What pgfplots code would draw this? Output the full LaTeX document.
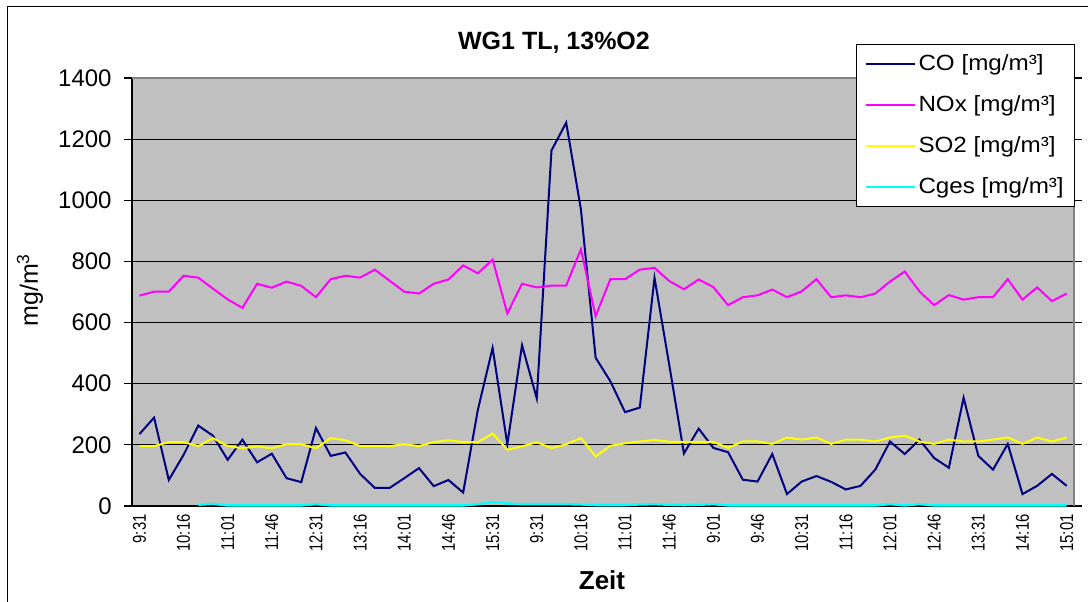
\documentclass[border=0pt]{standalone}
\usepackage{fontspec}
\setmainfont{Liberation Sans}
\newfontfamily\xtf{Liberation Sans}[FakeStretch=0.8]
\newfontfamily\lgf{Liberation Sans}[FakeStretch=1.1]
\usepackage{pgfplots}
\usepackage{pgfplotstable}
\pgfplotsset{compat=1.18}
\definecolor{silverbg}{RGB}{192,192,192}
\definecolor{conavy}{RGB}{0,0,128}
\definecolor{noxmag}{RGB}{255,0,255}
\definecolor{so2yel}{RGB}{255,255,0}
\definecolor{cgcyan}{RGB}{0,255,255}
\definecolor{bordergray}{RGB}{128,128,128}

\pgfplotstableread{
i co nox so2
0 235 688 196
1 289 701 196
2 85 701 209
3 167 753 209
4 263 747 196
5 230 711 222
6 151 676 196
7 217 648 189
8 143 727 195
9 171 714 189
10 91 734 202
11 78 720 202
12 255 683 189
13 164 742 222
14 175 753 215
15 105 747 196
16 59 773 196
17 59 737 196
18 91 701 202
19 124 695 196
20 65 727 209
21 85 741 215
22 44 787 209
23 315 761 209
24 517 806 237
25 202 630 184
26 526 727 195
27 352 715 209
28 1163 721 189
29 1254 721 202
30 970 840 222
31 485 621 162
32 408 742 197
33 307 742 205
34 322 773 211
35 746 779 216
36 462 736 210
37 172 709 210
38 253 741 210
39 190 716 210
40 176 657 190
41 86 683 211
42 80 689 211
43 170 708 203
44 39 683 224
45 80 702 217
46 98 742 224
47 79 683 203
48 54 689 217
49 66 683 217
50 119 695 211
51 211 734 224
52 170 767 230
53 217 702 211
54 157 657 203
55 125 690 217
56 354 675 211
57 164 683 211
58 119 683 217
59 203 742 224
60 39 675 203
61 66 715 224
62 105 670 211
63 66 695 224
}\datatab

\pgfplotstableread{
i cg
4 4
5 7
6 2
7 2
8 2
9 2
10 2
11 2
12 6
13 2
14 2
15 2
16 2
17 2
18 2
19 2
20 2
21 2
22 2
23 6
24 13
25 8
26 6
27 6
28 6
29 6
30 5
31 3
32 3
33 3
34 5
35 6
36 4
37 3
38 4
39 6
40 2
41 2
42 2
43 2
44 2
45 2
46 2
47 2
48 2
49 2
50 2
51 6
52 2
53 6
54 2
55 2
56 2
57 2
58 2
59 2
60 2
61 2
62 2
63 2
}\cgtab

\begin{document}
\begin{tikzpicture}
\path[use as bounding box] (0,0) rectangle (544pt,300.5pt);
\draw[black, line width=0.5pt] (3.5pt,-2pt) -- (3.5pt,297pt) -- (546pt,297pt);
\begin{axis}[
  at={(66pt,47.5pt)}, anchor=south west,
  scale only axis, width=471pt, height=214pt,
  xmin=-0.5, xmax=63.5, ymin=0, ymax=1400,
  clip=false,
  axis on top=false,
  axis line style={draw=none},
  axis background/.style={fill=silverbg, draw=black, line width=0.8pt},
  ytick={0,200,...,1400},
  /pgf/number format/assume math mode=true,
  /pgf/number format/1000 sep={},
  extra y ticks={200,400,...,1200},
  extra y tick style={ymajorgrids=true, yticklabels={}, major tick length=0pt},
  grid style={black, line width=0.5pt},
  tick align=outside,
  major tick length=4pt,
  ytick style={black, line width=0.6pt},
  xtick style={draw=none},
  xtick={0,3,...,63},
  xticklabels={9:31,10:16,11:01,11:46,12:31,13:16,14:01,14:46,15:31,9:31,10:16,11:01,11:46,9:01,9:46,10:31,11:16,12:01,12:46,13:31,14:16,15:01},
  xticklabel style={rotate=90, anchor=east, inner sep=0pt, font=\xtf\fontsize{9.3}{9.3}\selectfont},
  yticklabel style={inner sep=0pt, xshift=-6pt, font=\fontsize{12}{12}\selectfont},
  legend style={at={(0.7686,1.0794)}, anchor=north west, draw=black, line width=0.5pt, fill=white,
    font=\lgf\fontsize{11}{13}\selectfont, row sep=8pt, inner xsep=4pt, inner ysep=3.5pt,
    nodes={inner sep=1.5pt}},
  legend cell align=left,
  legend image code/.code={\draw[#1, line width=1pt] (0pt,0pt) -- (24.5pt,0pt);},
]
\draw[bordergray, line width=0.9pt] (rel axis cs:0,1) -- (rel axis cs:1,1) -- (rel axis cs:1,0);
\addplot[conavy, line width=1pt] table[x=i, y=co] {\datatab};
\addlegendentry{CO [mg/m³]}
\addplot[noxmag, line width=1pt] table[x=i, y=nox] {\datatab};
\addlegendentry{NOx [mg/m³]}
\addplot[so2yel, line width=1pt] table[x=i, y=so2] {\datatab};
\addlegendentry{SO2 [mg/m³]}
\addplot[cgcyan, line width=1.2pt] table[x=i, y=cg] {\cgtab};
\addlegendentry{Cges [mg/m³]}
\end{axis}
\node[font=\bfseries\fontsize{12.5}{15}\selectfont] at (277pt,279pt) {WG1 TL, 13\%O2};
\node[font=\bfseries\fontsize{13}{15}\selectfont] at (301pt,10.5pt) {Zeit};
\node[rotate=90, font=\fontsize{12.5}{15}\selectfont] at (15pt,155.5pt) {mg/m\textsuperscript{3}};
\end{tikzpicture}
\end{document}
